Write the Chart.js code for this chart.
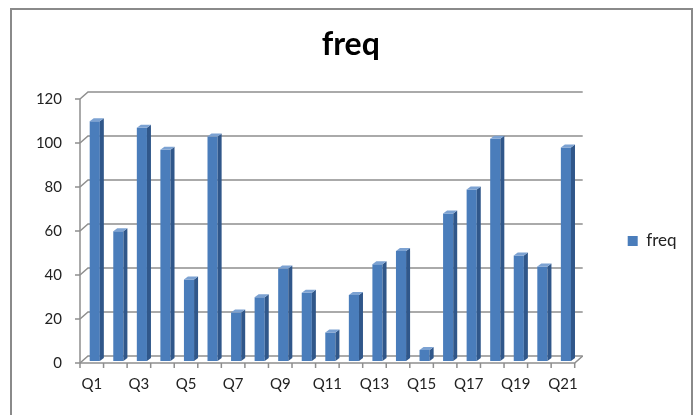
<!DOCTYPE html>
<html>
<head>
<meta charset="utf-8">
<script src="https://cdn.jsdelivr.net/npm/chart.js@4/dist/chart.umd.min.js"></script>
<style>
  html, body { margin: 0; padding: 0; background: #fff; }
  #wrap { width: 700px; height: 415px; position: relative; }
</style>
</head>
<body>
<div id="wrap"><canvas id="c" width="700" height="415"></canvas></div>
<script>
// Quarterly frequency counts
const categories = ['Q1', 'Q2', 'Q3', 'Q4', 'Q5', 'Q6', 'Q7', 'Q8', 'Q9', 'Q10', 'Q11',
                    'Q12', 'Q13', 'Q14', 'Q15', 'Q16', 'Q17', 'Q18', 'Q19', 'Q20', 'Q21'];
const freqValues = [109, 59, 106, 96, 37, 102, 22, 29, 42, 31, 13,
                    30, 44, 50, 5, 67, 78, 101, 48, 43, 97];
const yTickValues = [0, 20, 40, 60, 80, 100, 120];
const seriesName = 'freq';

const FONT = 'Lato, "Open Sans", sans-serif';
const LINE = '#8e8e8e';
const BAR_FRONT = '#4a7dbb';
const BAR_SIDE = '#30578a';
const BAR_TOP = '#7ca2d2';

// offsets of the front and back planes relative to the bar plane
const FRONT = { x: -3, y: 2 };
const BACK = { x: 5, y: -5 };
const DEPTH = { x: 4, y: -3 };

// outer frame around the whole chart
const framePlugin = {
  id: 'frame',
  beforeDraw(chart) {
    const ctx = chart.ctx;
    ctx.save();
    ctx.fillStyle = '#fff';
    ctx.fillRect(0, 0, chart.width, chart.height);
    ctx.strokeStyle = '#8a8a8a';
    ctx.lineWidth = 2;
    ctx.strokeRect(11, 9, 681, 420);
    ctx.restore();
  }
};

// walls, floor, gridlines and tick marks in a pseudo-3D box
const wallsPlugin = {
  id: 'walls',
  beforeDatasetsDraw(chart) {
    const { ctx, chartArea: a, scales } = chart;
    const ys = scales.y;
    ctx.save();
    ctx.strokeStyle = LINE;
    ctx.lineWidth = 1.5;
    const fl = a.left + FRONT.x, fr = a.right + FRONT.x;
    const bl = a.left + BACK.x, br = a.right + BACK.x;
    yTickValues.forEach(v => {
      const y = ys.getPixelForValue(v);
      ctx.beginPath();
      ctx.moveTo(fl, y + FRONT.y);
      ctx.lineTo(bl, y + BACK.y);
      ctx.lineTo(br, y + BACK.y);
      ctx.stroke();
      // tick mark on the value axis
      ctx.beginPath();
      ctx.moveTo(fl - 5, y + FRONT.y);
      ctx.lineTo(fl, y + FRONT.y);
      ctx.stroke();
    });
    const yTop = ys.getPixelForValue(yTickValues[yTickValues.length - 1]);
    const y0 = ys.getPixelForValue(0);
    // value axis line
    ctx.beginPath();
    ctx.moveTo(fl, yTop + FRONT.y);
    ctx.lineTo(fl, y0 + FRONT.y);
    ctx.stroke();
    // front edge of the floor and right edge
    ctx.beginPath();
    ctx.moveTo(fl, y0 + FRONT.y);
    ctx.lineTo(fr, y0 + FRONT.y);
    ctx.lineTo(br, y0 + BACK.y);
    ctx.stroke();
    // category tick marks
    const n = categories.length;
    const step = (a.right - a.left) / n;
    for (let i = 0; i <= n; i++) {
      const x = a.left + i * step + FRONT.x;
      ctx.beginPath();
      ctx.moveTo(x, y0 + FRONT.y);
      ctx.lineTo(x, y0 + FRONT.y + 5);
      ctx.stroke();
    }
    ctx.restore();
  }
};

// side and top faces of each column
const depthPlugin = {
  id: 'depth',
  afterDatasetsDraw(chart) {
    const ctx = chart.ctx;
    const meta = chart.getDatasetMeta(0);
    ctx.save();
    meta.data.forEach(bar => {
      const { x, y, base, width } = bar.getProps(['x', 'y', 'base', 'width'], true);
      const l = x - width / 2, r = x + width / 2;
      ctx.fillStyle = BAR_SIDE;
      ctx.beginPath();
      ctx.moveTo(r, y);
      ctx.lineTo(r + DEPTH.x, y + DEPTH.y);
      ctx.lineTo(r + DEPTH.x, base + DEPTH.y);
      ctx.lineTo(r, base);
      ctx.closePath();
      ctx.fill();
      ctx.fillStyle = BAR_TOP;
      ctx.beginPath();
      ctx.moveTo(l, y);
      ctx.lineTo(l + DEPTH.x, y + DEPTH.y);
      ctx.lineTo(r + DEPTH.x, y + DEPTH.y);
      ctx.lineTo(r, y);
      ctx.closePath();
      ctx.fill();
    });
    ctx.restore();
  }
};

new Chart(document.getElementById('c'), {
  type: 'bar',
  data: {
    labels: categories,
    datasets: [{
      label: seriesName,
      data: freqValues,
      backgroundColor: BAR_FRONT,
      borderWidth: 0,
      barPercentage: 0.43,
      categoryPercentage: 1.0
    }]
  },
  options: {
    responsive: false,
    animation: false,
    devicePixelRatio: 1,
    layout: { padding: { top: 70, left: 15, right: 13.5, bottom: 3 } },
    scales: {
      x: {
        grid: { display: false, drawTicks: false },
        border: { display: false },
        afterFit: s => { s.height = 51; },
        ticks: {
          autoSkip: false,
          maxRotation: 0,
          padding: 14,
          labelOffset: -3,
          color: '#222',
          font: { family: FONT, size: 15 },
          callback: (v, i) => (i % 2 === 0 ? categories[i] : '')
        }
      },
      y: {
        min: 0,
        max: 120,
        grid: { display: false, drawTicks: false },
        border: { display: false },
        afterBuildTicks: s => { s.ticks = yTickValues.map(v => ({ value: v })); },
        afterFit: s => { s.width = 68; },
        ticks: {
          padding: 21,
          labelOffset: 2,
          color: '#222',
          font: { family: FONT, size: 15 }
        }
      },
      gap: {
        type: 'linear',
        position: 'right',
        grid: { display: false, drawTicks: false },
        border: { display: false },
        ticks: { display: false },
        afterFit: s => { s.width = 40; }
      }
    },
    plugins: {
      title: {
        display: true,
        text: 'freq',
        color: '#000',
        font: { family: FONT, size: 32, weight: 'bold' },
        padding: { top: -44.2, bottom: 32.8 }
      },
      legend: {
        position: 'right',
        labels: {
          boxWidth: 10,
          boxHeight: 10,
          padding: 10,
          color: '#222',
          font: { family: FONT, size: 17 }
        }
      },
      tooltip: { enabled: false }
    }
  },
  plugins: [framePlugin, wallsPlugin, depthPlugin]
});
</script>
</body>
</html>
